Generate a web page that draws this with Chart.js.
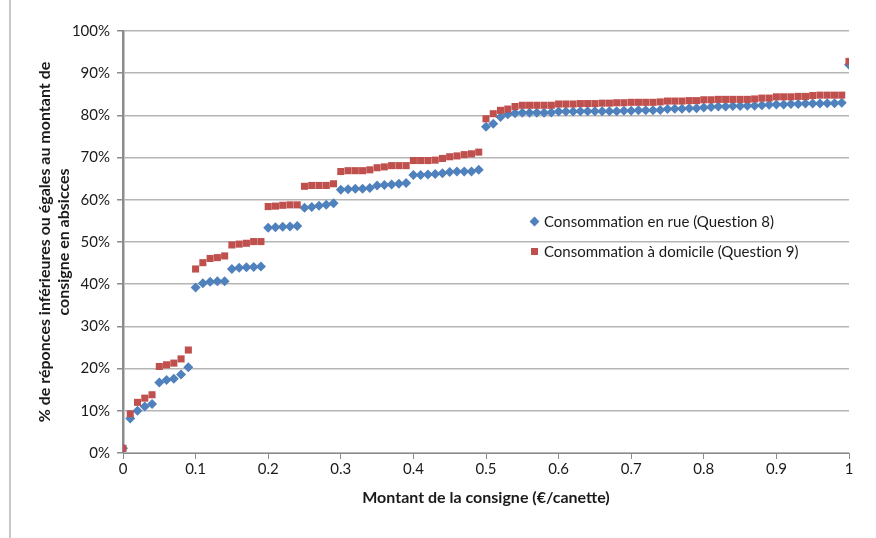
<!DOCTYPE html>
<html>
<head>
<meta charset="utf-8">
<script src="https://cdn.jsdelivr.net/npm/chart.js"></script>
<style>
  html, body { margin: 0; padding: 0; background: #fff; }
  #wrap { position: relative; width: 876px; height: 538px; }
  #frame { position: absolute; left: 9px; top: 0; width: 2px; height: 538px; background: #c8c8c8; }
  .leg { position: absolute; left: 531px; font: 15px Lato, "Open Sans", sans-serif; color: #1a1a1a; white-space: nowrap; font-variant-ligatures: none; font-feature-settings: "liga" 0; }
  .leg i { display: inline-block; width: 7px; height: 7px; margin-right: 6px; vertical-align: 2px; }
  #leg1 { top: 212px; }
  #leg1 i { background: #4f81bd; transform: rotate(45deg); }
  #leg2 { top: 242px; }
  #leg2 i { background: #c0504d; }
</style>
</head>
<body>
<div id="wrap">
  <canvas id="chart" width="876" height="538"></canvas>
  <div id="frame"></div>
  <div class="leg" id="leg1"><i></i>Consommation en rue (Question 8)</div>
  <div class="leg" id="leg2"><i></i>Consommation à domicile (Question 9)</div>
</div>
<script>
// % cumulés, montant de 0 à 1 €/canette par pas de 0.01
const rue = [
  1.1, 8.2, 10.0, 11.0, 11.6, 16.7, 17.3, 17.6, 18.6, 20.3,
  39.2, 40.2, 40.6, 40.7, 40.7, 43.6, 43.9, 44.0, 44.1, 44.2,
  53.4, 53.5, 53.6, 53.7, 53.8, 58.1, 58.3, 58.6, 58.8, 59.2,
  62.4, 62.5, 62.6, 62.6, 62.8, 63.4, 63.5, 63.6, 63.8, 64.0,
  65.9, 65.9, 66.0, 66.1, 66.3, 66.6, 66.7, 66.7, 66.7, 67.1,
  77.3, 78.0, 79.6, 80.3, 80.5, 80.6, 80.6, 80.6, 80.6, 80.7,
  80.9, 80.9, 80.9, 81.0, 81.0, 81.0, 81.0, 81.0, 81.0, 81.1,
  81.1, 81.2, 81.2, 81.2, 81.3, 81.5, 81.6, 81.6, 81.7, 81.7,
  81.9, 82.0, 82.1, 82.1, 82.2, 82.2, 82.3, 82.3, 82.4, 82.5,
  82.6, 82.6, 82.7, 82.7, 82.8, 82.8, 82.8, 82.9, 82.9, 83.0,
  92.0
];
const domicile = [
  1.1, 9.3, 12.0, 13.0, 13.8, 20.5, 20.9, 21.3, 22.3, 24.4,
  43.6, 45.1, 46.1, 46.3, 46.7, 49.3, 49.5, 49.7, 50.1, 50.1,
  58.4, 58.5, 58.7, 58.8, 58.8, 63.2, 63.4, 63.4, 63.4, 63.8,
  66.7, 66.9, 66.9, 66.9, 67.1, 67.6, 67.8, 68.1, 68.1, 68.1,
  69.3, 69.3, 69.3, 69.4, 69.8, 70.2, 70.4, 70.7, 70.9, 71.3,
  79.2, 80.4, 81.2, 81.5, 82.1, 82.4, 82.4, 82.4, 82.4, 82.4,
  82.7, 82.7, 82.7, 82.8, 82.8, 82.8, 82.9, 82.9, 83.0, 83.0,
  83.1, 83.1, 83.1, 83.1, 83.2, 83.4, 83.4, 83.4, 83.5, 83.5,
  83.7, 83.7, 83.8, 83.8, 83.8, 83.8, 83.8, 83.9, 84.1, 84.1,
  84.4, 84.4, 84.4, 84.5, 84.5, 84.7, 84.8, 84.8, 84.8, 84.8,
  92.8
];
const labelRue = "Consommation en rue (Question 8)";
const labelDomicile = "Consommation à domicile (Question 9)";

const toPoints = (arr) => arr.map((v, i) => ({ x: i / 100, y: v }));
const font = { family: "Lato, 'Open Sans', sans-serif", size: 15 };

new Chart(document.getElementById("chart"), {
  type: "scatter",
  data: {
    datasets: [
      {
        label: labelDomicile,
        data: toPoints(domicile),
        pointStyle: "rect",
        pointRadius: 5,
        pointHoverRadius: 5,
        backgroundColor: "#c0504d",
        borderWidth: 0,
      },
      {
        label: labelRue,
        data: toPoints(rue),
        pointStyle: "rectRot",
        pointRadius: 5,
        pointHoverRadius: 5,
        backgroundColor: "#4f81bd",
        borderWidth: 0,
      },
    ],
  },
  options: {
    responsive: false,
    animation: false,
    layout: { padding: { left: 0, top: 31, right: 27, bottom: 0 } },
    plugins: { legend: { display: false }, tooltip: { enabled: false } },
    scales: {
      x: {
        type: "linear",
        min: 0,
        max: 1,
        afterFit: (s) => { s.height = 85; },
        ticks: {
          stepSize: 0.1,
          color: "#1a1a1a",
          font: font,
          padding: 1,
          maxRotation: 0,
          callback: (v) => String(Number(v.toFixed(1))),
        },
        grid: { drawOnChartArea: false, drawTicks: true, tickLength: 6, color: "#8c8c8c", lineWidth: 1 },
        border: { color: "#8c8c8c", width: 1 },
        title: {
          display: true,
          text: "Montant de la consigne (€/canette)",
          color: "#1a1a1a",
          font: { family: font.family, size: 16, weight: "bold", lineHeight: 1.3 },
          padding: { bottom: 30 },
        },
      },
      y: {
        min: 0,
        max: 100,
        afterFit: (s) => { s.width = 123; },
        ticks: {
          stepSize: 10,
          color: "#1a1a1a",
          font: font,
          padding: 7,
          callback: (v) => v + "%",
        },
        grid: { color: "#b5b5b5", lineWidth: 1.5, tickLength: 6, tickColor: "#8c8c8c" },
        border: { color: "#8c8c8c", width: 2.5 },
        title: {
          display: true,
          text: ["% de réponces inférieures ou égales au montant de", "consigne en absicces"],
          color: "#1a1a1a",
          font: { family: font.family, size: 16, weight: "bold", lineHeight: 1.2 },
          padding: { top: 35 },
        },
      },
    },
  },
});
</script>
</body>
</html>
